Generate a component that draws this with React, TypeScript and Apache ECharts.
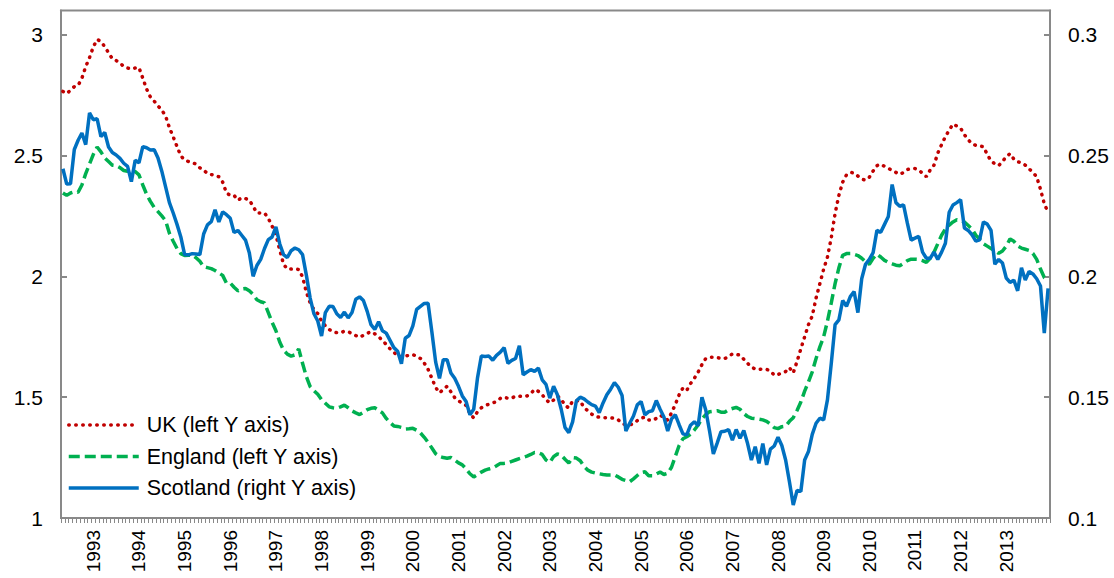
import React, { useEffect, useRef } from "react";
import * as echarts from "echarts";

const START_YEAR = 1992;
const START_MONTH = 5;
const N_MONTHS = 260;

const months: string[] = [];
for (let i = 0; i < N_MONTHS; i++) {
  const m = START_MONTH - 1 + i;
  const y = START_YEAR + Math.floor(m / 12);
  const mm = (m % 12) + 1;
  months.push(`${y}-${String(mm).padStart(2, "0")}`);
}

const leftTicks = [1, 1.5, 2, 2.5, 3];
const rightTicks = [0.1, 0.15, 0.2, 0.25, 0.3];

const seriesNames = ["UK (left Y axis)", "England (left Y axis)", "Scotland (right Y axis)"];

const uk = [
  2.765, 2.756, 2.77, 2.785, 2.79, 2.82, 2.868, 2.905,
  2.95, 2.98, 2.972, 2.95, 2.925, 2.9, 2.893, 2.883, 2.868, 2.862, 2.858, 2.862,
  2.864, 2.82, 2.775, 2.742, 2.725, 2.705, 2.688, 2.663, 2.615, 2.577, 2.537, 2.498,
  2.482, 2.475, 2.47, 2.465, 2.449, 2.44, 2.425, 2.421, 2.418, 2.412, 2.39, 2.345,
  2.335, 2.335, 2.315, 2.325, 2.322, 2.316, 2.29, 2.262, 2.262, 2.262, 2.24, 2.208,
  2.17, 2.11, 2.05, 2.03, 2.03, 2.031, 2.028, 1.998, 1.935, 1.89, 1.862, 1.846,
  1.815, 1.795, 1.78, 1.771, 1.767, 1.766, 1.773, 1.77, 1.764, 1.755, 1.748, 1.756,
  1.764, 1.771, 1.762, 1.75, 1.735, 1.718, 1.7, 1.687, 1.668, 1.669, 1.67, 1.673,
  1.676, 1.669, 1.66, 1.641, 1.615, 1.578, 1.54, 1.518, 1.532, 1.545, 1.522, 1.498,
  1.485, 1.475, 1.466, 1.432, 1.414, 1.44, 1.456, 1.465, 1.471, 1.476, 1.482, 1.495,
  1.5, 1.495, 1.496, 1.504, 1.504, 1.502, 1.505, 1.515, 1.532, 1.524, 1.51, 1.49,
  1.476, 1.488, 1.504, 1.493, 1.465, 1.456, 1.484, 1.486, 1.484, 1.457, 1.444, 1.43,
  1.42, 1.417, 1.415, 1.415, 1.415, 1.412, 1.406, 1.392, 1.385, 1.385, 1.39, 1.403,
  1.413, 1.418, 1.406, 1.404, 1.412, 1.424, 1.418, 1.405, 1.435, 1.47, 1.51, 1.538,
  1.528, 1.556, 1.578, 1.604, 1.635, 1.66, 1.665, 1.665, 1.664, 1.66, 1.66, 1.667,
  1.679, 1.677, 1.674, 1.657, 1.64, 1.625, 1.616, 1.615, 1.617, 1.615, 1.609, 1.591,
  1.594, 1.6, 1.606, 1.622, 1.6, 1.648, 1.7, 1.75, 1.8, 1.836, 1.91, 1.97,
  2.03, 2.08, 2.16, 2.26, 2.335, 2.39, 2.42, 2.43, 2.428, 2.415, 2.402, 2.398,
  2.41, 2.436, 2.458, 2.464, 2.455, 2.447, 2.438, 2.43, 2.422, 2.43, 2.442, 2.446,
  2.446, 2.44, 2.426, 2.412, 2.44, 2.46, 2.51, 2.545, 2.578, 2.605, 2.63, 2.622,
  2.613, 2.586, 2.565, 2.548, 2.542, 2.54, 2.536, 2.505, 2.477, 2.466, 2.458, 2.475,
  2.495, 2.508, 2.485, 2.474, 2.47, 2.46, 2.445, 2.43, 2.412, 2.36, 2.3, 2.265,
];

const england = [
  2.345, 2.335, 2.345, 2.35, 2.348, 2.378, 2.425, 2.465,
  2.505, 2.535, 2.515, 2.49, 2.475, 2.46, 2.458, 2.45, 2.438, 2.435, 2.434, 2.434,
  2.42, 2.378, 2.34, 2.31, 2.285, 2.268, 2.25, 2.23, 2.178, 2.145, 2.115, 2.094,
  2.086, 2.087, 2.088, 2.077, 2.062, 2.04, 2.036, 2.032, 2.024, 2.014, 2.004, 1.972,
  1.972, 1.955, 1.94, 1.948, 1.95, 1.94, 1.925, 1.903, 1.895, 1.89, 1.85, 1.81,
  1.775, 1.728, 1.695, 1.678, 1.67, 1.675, 1.7, 1.64, 1.585, 1.544, 1.527, 1.512,
  1.49, 1.475, 1.46, 1.456, 1.454, 1.46, 1.467, 1.456, 1.443, 1.435, 1.428, 1.437,
  1.448, 1.454, 1.456, 1.446, 1.435, 1.412, 1.395, 1.381, 1.379, 1.375, 1.368, 1.369,
  1.371, 1.363, 1.352, 1.334, 1.313, 1.29, 1.266, 1.255, 1.25, 1.247, 1.25, 1.24,
  1.228, 1.22, 1.203, 1.183, 1.17, 1.18, 1.19, 1.198, 1.203, 1.207, 1.216, 1.226,
  1.226, 1.228, 1.234, 1.24, 1.246, 1.251, 1.256, 1.263, 1.271, 1.27, 1.263, 1.24,
  1.23, 1.254, 1.265, 1.26, 1.243, 1.228, 1.25, 1.248, 1.237, 1.214, 1.198, 1.19,
  1.186, 1.183, 1.18, 1.178, 1.178, 1.178, 1.17, 1.16, 1.155, 1.15, 1.162, 1.176,
  1.188, 1.191, 1.175, 1.175, 1.182, 1.19, 1.18, 1.185, 1.21, 1.255, 1.3, 1.328,
  1.336, 1.346, 1.364, 1.385, 1.41, 1.428, 1.44, 1.442, 1.444, 1.438, 1.438, 1.448,
  1.453, 1.458, 1.45, 1.432, 1.42, 1.413, 1.411, 1.409, 1.406, 1.4, 1.388, 1.374,
  1.37, 1.378, 1.38, 1.4, 1.415, 1.445, 1.48, 1.525, 1.563, 1.605, 1.66, 1.708,
  1.75, 1.815, 1.89, 1.97, 2.035, 2.087, 2.094, 2.094, 2.091, 2.086, 2.075, 2.06,
  2.05, 2.075, 2.092, 2.08, 2.066, 2.058, 2.052, 2.046, 2.044, 2.054, 2.065, 2.071,
  2.071, 2.07, 2.065, 2.058, 2.075, 2.1, 2.135, 2.17, 2.196, 2.212, 2.225, 2.234,
  2.23, 2.225, 2.21, 2.195, 2.17, 2.155, 2.135, 2.125, 2.115, 2.105, 2.095, 2.105,
  2.125, 2.155, 2.145, 2.125, 2.117, 2.112, 2.107, 2.095, 2.07, 2.03, 1.995, 1.99,
];

const scotland = [
  0.2445, 0.2382, 0.2383, 0.2525, 0.2563, 0.2593, 0.2545, 0.2676,
  0.2648, 0.2652, 0.2578, 0.2595, 0.2535, 0.2512, 0.2502, 0.2488, 0.2468, 0.2455, 0.2392, 0.248,
  0.247, 0.2537, 0.2532, 0.2523, 0.2524, 0.249, 0.2435, 0.237, 0.2305, 0.2262, 0.2215, 0.2163,
  0.209, 0.2089, 0.2094, 0.2092, 0.209, 0.2175, 0.2213, 0.2226, 0.2275, 0.2225, 0.2267, 0.2255,
  0.224, 0.2181, 0.219, 0.217, 0.215, 0.2098, 0.2, 0.2045, 0.207, 0.2115, 0.2152, 0.2163,
  0.2205, 0.2135, 0.209, 0.2078, 0.2106, 0.2117, 0.211, 0.209, 0.2005, 0.191, 0.1845, 0.1815,
  0.1753, 0.185, 0.1876, 0.1875, 0.1845, 0.183, 0.1852, 0.1828, 0.185, 0.1905, 0.1915, 0.19,
  0.1855, 0.18, 0.178, 0.1812, 0.1775, 0.1765, 0.1735, 0.1705, 0.169, 0.1638, 0.1744, 0.1755,
  0.1795, 0.1863, 0.1876, 0.1888, 0.1889, 0.177, 0.1645, 0.1578, 0.1655, 0.1655, 0.16, 0.1578,
  0.1545, 0.1505, 0.1482, 0.1427, 0.145, 0.158, 0.167, 0.1668, 0.167, 0.1653, 0.1673, 0.1686,
  0.1705, 0.164, 0.1652, 0.166, 0.1713, 0.1593, 0.1604, 0.1614, 0.1607, 0.162, 0.1572, 0.1553,
  0.1496, 0.1545, 0.151, 0.145, 0.1375, 0.1353, 0.1398, 0.1485, 0.15, 0.1493, 0.148, 0.1469,
  0.1463, 0.1436, 0.1476, 0.151, 0.1533, 0.156, 0.1541, 0.1507, 0.136, 0.1392, 0.1422, 0.1468,
  0.1482, 0.1427, 0.144, 0.1444, 0.1486, 0.145, 0.1418, 0.136, 0.141, 0.1427, 0.1386, 0.1348,
  0.1344, 0.1384, 0.1398, 0.1382, 0.15, 0.1447, 0.136, 0.1265, 0.131, 0.1357, 0.1359, 0.1366,
  0.1322, 0.1366, 0.133, 0.1362, 0.1308, 0.124, 0.1295, 0.1226, 0.1308, 0.122, 0.1285, 0.1298,
  0.1334, 0.13, 0.124, 0.115, 0.1054, 0.1114, 0.111, 0.124, 0.1275, 0.1346, 0.1392, 0.1413,
  0.1406, 0.149, 0.164, 0.18, 0.182, 0.19, 0.1876, 0.1916, 0.1937, 0.185, 0.199, 0.205,
  0.207, 0.2098, 0.219, 0.2182, 0.2215, 0.2248, 0.238, 0.2305, 0.229, 0.2296, 0.222, 0.215,
  0.2158, 0.2165, 0.21, 0.2075, 0.2075, 0.21, 0.207, 0.21, 0.2137, 0.2265, 0.2295, 0.2305,
  0.2317, 0.22, 0.219, 0.2172, 0.2146, 0.2151, 0.2225, 0.2216, 0.219, 0.205, 0.207, 0.2055,
  0.1993, 0.1975, 0.1984, 0.194, 0.2035, 0.1985, 0.202, 0.201, 0.199, 0.196, 0.1765, 0.195,
];

const FONT = "'Liberation Sans', Arial, sans-serif";
const AXIS_GRAY = "#898989";

export default function App() {
  const ref = useRef<HTMLDivElement>(null);

  useEffect(() => {
    if (!ref.current) return;
    const chart = echarts.init(ref.current, null, { renderer: "svg" });

    const fmt = (ticks: number[]) => (v: number) => {
      const hit = ticks.find((t) => Math.abs(t - v) < 1e-6);
      return hit === undefined ? "" : String(hit);
    };

    chart.setOption({
      animation: false,
      backgroundColor: "#ffffff",
      textStyle: { fontFamily: FONT },
      grid: {
        left: 61,
        right: 64,
        top: 10.5,
        bottom: 60,
        show: true,
        borderColor: AXIS_GRAY,
        borderWidth: 2,
        containLabel: false,
        outerBoundsMode: "none",
      },
      legend: {
        data: seriesNames,
        orient: "vertical",
        left: 67,
        top: 413.5,
        padding: 0,
        itemWidth: 70,
        itemHeight: 14,
        itemGap: 8.5,
        itemStyle: { opacity: 0 },
        lineStyle: { width: 3.5 },
        textStyle: { fontSize: 21.5, lineHeight: 23, color: "#000", fontFamily: FONT, padding: [0, 0, 0, 3] },
      },
      xAxis: {
        type: "category",
        data: months,
        boundaryGap: true,
        axisLine: { show: true, lineStyle: { color: AXIS_GRAY, width: 2 } },
        axisTick: { show: true, interval: 0, length: 5, lineStyle: { color: AXIS_GRAY, width: 1 } },
        axisLabel: {
          interval: (idx: number) => idx % 12 === 8,
          rotate: 90,
          margin: 12,
          fontSize: 19,
          color: "#000",
          fontFamily: FONT,
          formatter: (v: string) => v.slice(0, 4),
        },
        splitLine: { show: false },
      },
      yAxis: [
        {
          type: "value",
          position: "left",
          min: 1,
          max: 3.1,
          interval: 0.5,
          axisLine: { show: true, lineStyle: { color: AXIS_GRAY, width: 2 } },
          axisTick: { show: true, inside: true, length: 6, lineStyle: { color: AXIS_GRAY, width: 2 } },
          axisLabel: {
            margin: 18,
            fontSize: 21,
            color: "#000",
            fontFamily: FONT,
            showMaxLabel: false,
            formatter: fmt(leftTicks),
          },
          splitLine: { show: false },
        },
        {
          type: "value",
          position: "right",
          min: 0.1,
          max: 0.31,
          interval: 0.05,
          axisLine: { show: true, lineStyle: { color: AXIS_GRAY, width: 2 } },
          axisTick: { show: true, inside: true, length: 6, lineStyle: { color: AXIS_GRAY, width: 2 } },
          axisLabel: {
            margin: 18,
            fontSize: 21,
            color: "#000",
            fontFamily: FONT,
            showMaxLabel: false,
            formatter: fmt(rightTicks),
          },
          splitLine: { show: false },
        },
      ],
      series: [
        {
          name: seriesNames[0],
          type: "line",
          yAxisIndex: 0,
          data: uk,
          symbol: "none",
          lineStyle: { color: "#C00000", width: 3.5, type: [0.5, 6.5], cap: "round" },
          itemStyle: { color: "#C00000" },
          z: 2,
        },
        {
          name: seriesNames[1],
          type: "line",
          yAxisIndex: 0,
          data: england,
          symbol: "none",
          lineStyle: { color: "#00B050", width: 3.5, type: [11, 5] },
          itemStyle: { color: "#00B050" },
          z: 3,
        },
        {
          name: seriesNames[2],
          type: "line",
          yAxisIndex: 1,
          data: scotland,
          symbol: "none",
          lineStyle: { color: "#0070C0", width: 3.5 },
          itemStyle: { color: "#0070C0" },
          z: 4,
        },
      ],
    });

    return () => chart.dispose();
  }, []);

  return (
    <div
      ref={ref}
      style={{ position: "fixed", left: 0, top: 0, width: 1114, height: 578, background: "#fff" }}
    />
  );
}
